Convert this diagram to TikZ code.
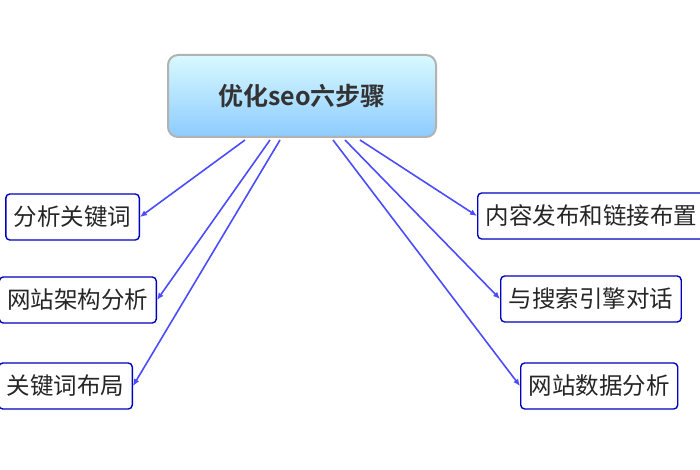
\documentclass[tikz,border=0pt]{standalone}
\usepackage{fontspec}
\usetikzlibrary{arrows.meta}
\newfontfamily\cjk{Noto Sans CJK SC}
\newfontfamily\cjkb{Noto Sans CJK SC Bold}
\begin{document}
\begin{tikzpicture}[x=1pt,y=-1pt,
  leaf/.style={draw=blue!75!black,line width=1.4pt,rounded corners=4pt,fill=white,font=\cjk\fontsize{23.5}{23.5}\selectfont,text=black!85,minimum height=46pt,inner xsep=8pt},
  link/.style={draw=blue!70,line width=1.6pt,-{Latex[length=7pt,width=6pt]}}]
\clip (0,0) rectangle (700,470);
\fill[white] (0,0) rectangle (700,470);
\node[draw=gray!60,line width=2pt,rounded corners=10pt,top color=blue!15!cyan!15,bottom color=blue!45!cyan!45,minimum width=268pt,minimum height=82pt,font=\cjkb\fontsize{25}{25}\selectfont,text=black!80] (c) at (302,96) {优化seo六步骤};
\node[leaf,anchor=east] (l1) at (140,217) {分析关键词};
\node[leaf,anchor=east] (l2) at (157,300) {网站架构分析};
\node[leaf,anchor=east] (l3) at (133,386) {关键词布局};
\node[leaf,anchor=west] (r1) at (477,216) {内容发布和链接布置};
\node[leaf,anchor=west] (r2) at (500,299) {与搜索引擎对话};
\node[leaf,anchor=west] (r3) at (520,386) {网站数据分析};
\coordinate (cl1) at (245,140);\coordinate (cl2) at (270,140);\coordinate (cl3) at (280,140);
\coordinate (cr1) at (360,140);\coordinate (cr2) at (345,140);\coordinate (cr3) at (333,140);
\draw[link] (cl1) -- (l1.east);
\draw[link] (cl2) -- (l2.east);
\draw[link] (cl3) -- (l3.east);
\draw[link] (cr1) -- (r1.west);
\draw[link] (cr2) -- (r2.west);
\draw[link] (cr3) -- (r3.west);
\end{tikzpicture}
\end{document}
